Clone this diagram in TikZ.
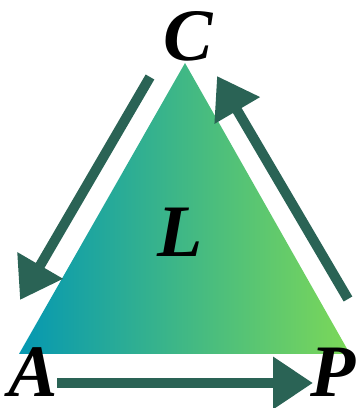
\documentclass[tikz,border=0pt]{standalone}
\usepackage{fontspec}
\setmainfont{Liberation Serif}
\usetikzlibrary{arrows.meta}
\definecolor{arrowcol}{HTML}{2A6355}
\definecolor{leftcol}{HTML}{0598B2}
\definecolor{rightcol}{HTML}{7CD858}
\tikzset{
  lbl/.style={inner sep=0pt, font=\fontsize{74}{74}\selectfont\bfseries\itshape, text=black},
  bigarrow/.style={draw=arrowcol, line width=10pt, line cap=butt, -{Triangle[length=40pt,width=50pt]}}
}
\begin{document}
\begin{tikzpicture}[x=1pt,y=1pt]
\useasboundingbox (0,0) rectangle (357,408);
\shade[left color=leftcol, right color=rightcol] (185,345) -- (19,54) -- (350,54) -- cycle;
\node[lbl] (C) at (188,372) {C};
\node[lbl] (A) at (33,36) {A};
\node[lbl] (P) at (333,36) {P};
\node[lbl] (L) at (180,176) {L};
\coordinate (l1) at (150,331);
\coordinate (l2) at (20,108);
\coordinate (r1) at (348,109);
\coordinate (r2) at (217,332);
\coordinate (b1) at (57,25);
\coordinate (b2) at (313,25);
\draw[bigarrow] (l1) -- (l2);
\draw[bigarrow] (r1) -- (r2);
\draw[bigarrow] (b1) -- (b2);
\end{tikzpicture}
\end{document}
